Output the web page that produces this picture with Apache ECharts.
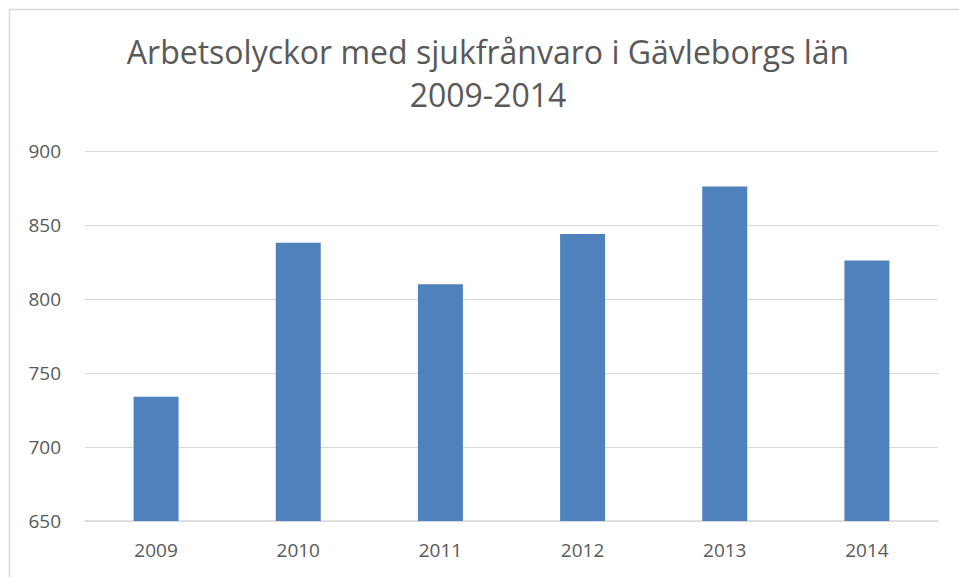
<!DOCTYPE html>
<html>
<head>
<meta charset="utf-8">
<script src="https://cdn.jsdelivr.net/npm/echarts@6/dist/echarts.min.js"></script>
<style>
    html, body { margin: 0; padding: 0; background: #fff; }
    #chart { width: 959px; height: 577px; }
</style>
</head>
<body>
<div id="chart"></div>
<script>
    const years = ['2009', '2010', '2011', '2012', '2013', '2014']
    const accidents = [734, 838, 810, 844, 876, 826]
    const titleText = 'Arbetsolyckor med sjukfrånvaro i Gävleborgs län\n2009-2014'

    const chart = echarts.init(document.getElementById('chart'), null, { renderer: 'svg' })

    chart.setOption({
        animation: false,
        color: ['#4f81bd'],
        graphic: [{
            type: 'rect',
            left: 7,
            top: 7,
            shape: { width: 1000, height: 1000 },
            style: { fill: 'none', stroke: '#d9d9d9', lineWidth: 1.5 },
            silent: true
        }],
        title: {
            text: titleText,
            left: 483,
            textAlign: 'center',
            top: 25,
            textStyle: {
                fontFamily: 'Open Sans',
                fontSize: 32,
                fontWeight: 'normal',
                color: '#595959',
                lineHeight: 43
            }
        },
        grid: {
            top: 151,
            right: 21,
            bottom: 56,
            left: 85
        },
        xAxis: {
            type: 'category',
            data: years,
            axisTick: { show: false },
            axisLine: { lineStyle: { color: '#d9d9d9', width: 1.5 } },
            axisLabel: {
                color: '#595959',
                fontFamily: 'Open Sans',
                fontSize: 19,
                margin: 19
            }
        },
        yAxis: {
            type: 'value',
            min: 650,
            max: 900,
            interval: 50,
            axisLine: { show: false },
            axisTick: { show: false },
            splitLine: { lineStyle: { color: '#d9d9d9', width: 1.2 } },
            axisLabel: {
                color: '#595959',
                fontFamily: 'Open Sans',
                fontSize: 19,
                margin: 24
            }
        },
        series: [{
            type: 'bar',
            data: accidents,
            barWidth: 45
        }]
    })
</script>
</body>
</html>
